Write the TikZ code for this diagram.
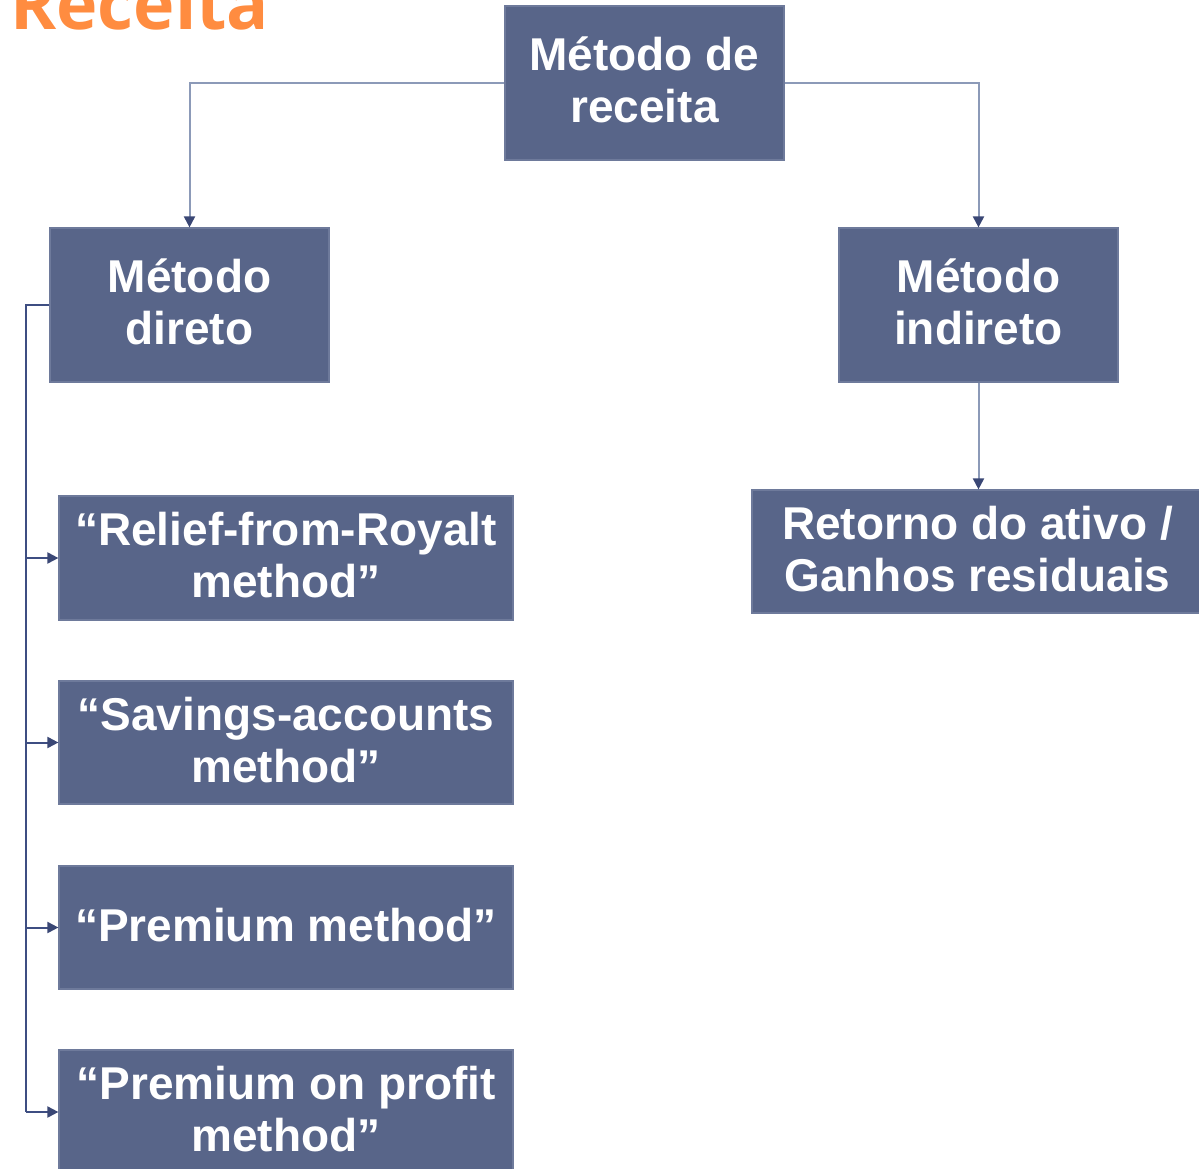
\documentclass[tikz,border=0pt]{standalone}
\usepackage{fontspec}
\setmainfont{Liberation Sans}
\newfontfamily\titlefont{Open Sans}
\usetikzlibrary{arrows.meta}
\definecolor{boxfill}{RGB}{88,101,137}
\definecolor{boxedge}{RGB}{110,122,155}
\definecolor{toplink}{RGB}{140,154,184}
\definecolor{buslink}{RGB}{62,78,130}
\definecolor{tipcol}{RGB}{58,71,117}
\definecolor{titleorange}{RGB}{255,140,64}
\tikzset{
  mbox/.style={draw=boxedge, line width=1.2pt, fill=boxfill, text=white, inner sep=0pt,
    align=center, text depth=6pt, font=\bfseries\fontsize{46}{52}\selectfont},
  toplk/.style={draw=toplink, line width=2pt},
  buslk/.style={draw=buslink, line width=2pt},
  tip/.style={-{Triangle[length=11pt,width=11pt,color=tipcol]}}
}
\begin{document}
\begin{tikzpicture}[x=1pt,y=-1pt]
\useasboundingbox (0,0) rectangle (1199,1169);
\clip (0,0) rectangle (1199,1169);
\node[anchor=base west, inner sep=0pt, text=titleorange, font=\titlefont\bfseries\fontsize{70}{80}\selectfont] (title) at (10,30) {Receita};

\node[mbox, minimum width=279pt, minimum height=154pt] (top) at (644.5,83) {Método de\\receita};
\node[mbox, minimum width=279pt, minimum height=154pt] (direto) at (189.5,305) {Método\\direto};
\node[mbox, minimum width=279pt, minimum height=154pt] (indireto) at (978.5,305) {Método\\indireto};
\node[mbox, minimum width=451pt, minimum height=123pt] (ret) at (977.5,551.5) {Retorno do ativo /\\Ganhos residuais};
\node[mbox, minimum width=454pt, minimum height=124pt] (rel) at (286,558) {“Relief-from-Royalt\\method”};
\node[mbox, minimum width=454pt, minimum height=123pt] (sav) at (286,742.5) {“Savings-accounts\\method”};
\node[mbox, minimum width=454pt, minimum height=123pt] (prem) at (286,927.5) {“Premium method”};
\node[mbox, minimum width=454pt, minimum height=124pt] (pop) at (286,1112) {“Premium on profit\\method”};

\draw[toplk, tip] (top.west) -| (direto.north);
\draw[toplk, tip] (top.east) -| (indireto.north);
\draw[toplk, tip] (indireto.south) -- (indireto.south |- ret.north);

\coordinate (bus) at (26,305);
\draw[buslk] (direto.west) -- (bus) -- (bus |- pop.west);
\draw[buslk, tip] (bus |- rel.west) -- (rel.west);
\draw[buslk, tip] (bus |- sav.west) -- (sav.west);
\draw[buslk, tip] (bus |- prem.west) -- (prem.west);
\draw[buslk, tip] (bus |- pop.west) -- (pop.west);
\end{tikzpicture}
\end{document}
